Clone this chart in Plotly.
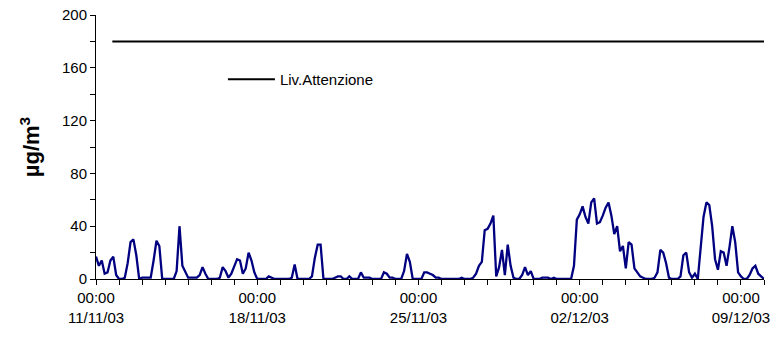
import pandas as pd
import plotly.graph_objects as go

# ---- data: 3-hourly concentrations (µg/m3), one row per day starting 11/11/03 00:00
day_values = [
    [17, 10, 14, 4, 5, 14, 17, 3],      # 11/11
    [0, 0, 1, 12, 28, 30, 18, 0],       # 12/11
    [1, 1, 1, 1, 14, 29, 25, 0],        # 13/11
    [0, 0, 0, 0, 6, 40, 10, 5],         # 14/11
    [1, 1, 1, 1, 3, 9, 4, 0],           # 15/11
    [0, 0, 0, 1, 9, 6, 1, 4],           # 16/11
    [10, 15, 14, 4, 8, 20, 14, 5],      # 17/11
    [0, 0, 0, 0, 2, 1, 0, 0],           # 18/11
    [0, 0, 0, 0, 1, 11, 0, 0],          # 19/11
    [0, 0, 0, 2, 16, 26, 26, 0],        # 20/11
    [0, 0, 0, 1, 2, 2, 0, 0],           # 21/11
    [2, 0, 0, 0, 5, 1, 1, 1],           # 22/11
    [0, 0, 0, 0, 5, 4, 1, 1],           # 23/11
    [0, 0, 0, 6, 19, 13, 0, 0],         # 24/11
    [0, 0, 5, 5, 4, 3, 1, 1],           # 25/11
    [0, 0, 0, 0, 0, 0, 0, 1],           # 26/11
    [0, 0, 0, 1, 4, 10, 13, 37],        # 27/11
    [38, 42, 48, 2, 9, 22, 3, 26],      # 28/11
    [10, 1, 0, 0, 3, 9, 3, 6],          # 29/11
    [0, 0, 0, 1, 1, 1, 0, 1],           # 30/11
    [0, 0, 0, 0, 0, 0, 10, 45],         # 01/12
    [49, 55, 47, 42, 58, 61, 42, 43],   # 02/12
    [48, 54, 58, 48, 34, 40, 21, 25],   # 03/12
    [8, 28, 26, 8, 5, 2, 1, 0],         # 04/12
    [0, 0, 1, 5, 22, 20, 12, 1],        # 05/12
    [0, 0, 0, 2, 18, 20, 5, 1],         # 06/12
    [4, 0, 25, 47, 58, 56, 40, 15],     # 07/12
    [7, 21, 20, 10, 24, 40, 28, 5],     # 08/12
    [2, 0, 0, 3, 8, 10, 4, 2],          # 09/12
    [0],                                # 10/12 00:00
]
series_start = "2003-11-11 00:00"
step = "3h"

threshold_name = "Liv.Attenzione"
threshold_value = 180
threshold_start = "2003-11-11 17:00"
threshold_end = "2003-12-10 00:00"

x_range = ["2003-11-11 00:00", "2003-12-10 00:00"]
tick_dates = ["2003-11-11", "2003-11-18", "2003-11-25", "2003-12-02", "2003-12-09"]
tick_labels = ["00:00<br>11/11/03", "00:00<br>18/11/03", "00:00<br>25/11/03",
               "00:00<br>02/12/03", "00:00<br>09/12/03"]
y_ticks = [0, 40, 80, 120, 160, 200]

values = [v for day in day_values for v in day]
times = pd.date_range(series_start, periods=len(values), freq=step)

FONT = "Liberation Sans, Arial, sans-serif"

fig = go.Figure()
fig.add_trace(go.Scatter(
    x=times, y=values, mode="lines",
    line=dict(color="#000080", width=2.3),
    showlegend=False, hoverinfo="skip",
))
fig.add_trace(go.Scatter(
    x=[threshold_start, threshold_end], y=[threshold_value, threshold_value],
    mode="lines", name=threshold_name,
    line=dict(color="black", width=2),
))

fig.update_layout(
    width=780, height=339,
    margin=dict(l=96, r=16, t=15, b=60),
    paper_bgcolor="white", plot_bgcolor="white",
    font=dict(family=FONT, size=15, color="black"),
    legend=dict(x=0.19, y=0.756, xanchor="left", yanchor="middle",
                bgcolor="rgba(0,0,0,0)", font=dict(size=15), itemwidth=47),
)
fig.update_xaxes(
    type="date", range=x_range, automargin=False,
    tickvals=tick_dates, ticktext=tick_labels,
    ticks="outside", ticklen=5, tickcolor="black",
    showline=True, linecolor="black", linewidth=1,
    showgrid=False, zeroline=False,
    minor=dict(dtick=86400000, ticks="outside", ticklen=5, tickcolor="black", showgrid=False),
    tickfont=dict(size=15),
)
fig.update_yaxes(
    range=[0, 200], tickvals=y_ticks, automargin=False,
    ticks="outside", ticklen=5, tickcolor="black",
    showline=True, linecolor="black", linewidth=1,
    showgrid=False, zeroline=False,
    minor=dict(dtick=20, ticks="outside", ticklen=5, tickcolor="black", showgrid=False),
    tickfont=dict(size=15),
    title=dict(text="<b>µg/m<sup>3</sup></b>", font=dict(size=22), standoff=16),
)

fig.write_html("out.html")
